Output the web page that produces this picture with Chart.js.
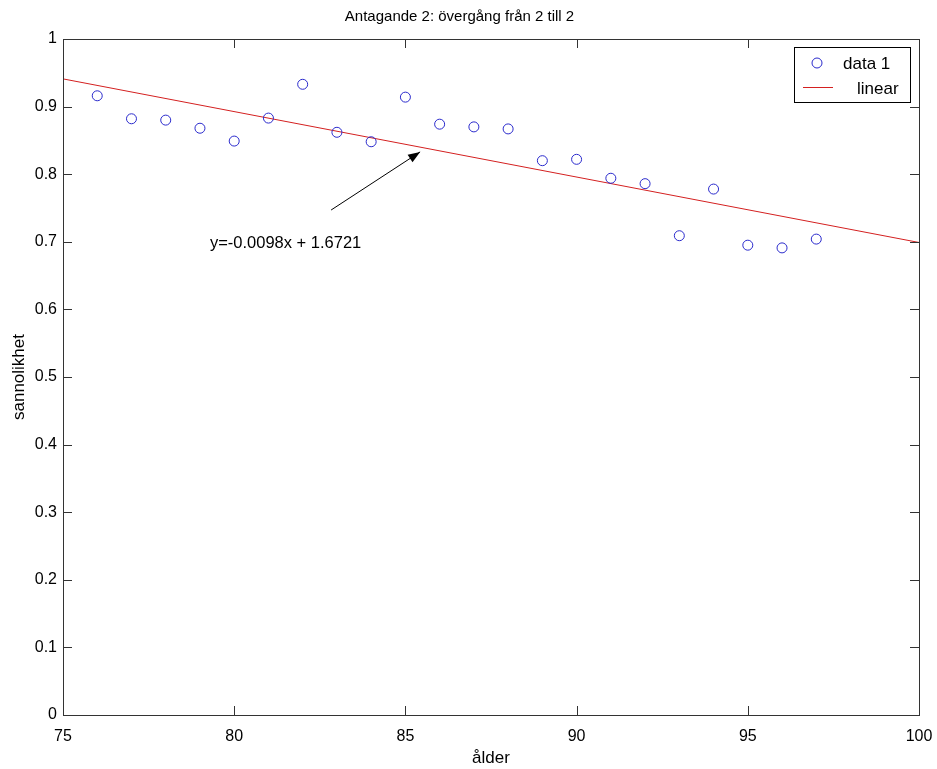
<!DOCTYPE html>
<html>
<head>
<meta charset="utf-8">
<script src="https://cdn.jsdelivr.net/npm/chart.js@4/dist/chart.umd.min.js"></script>
<style>
html,body{margin:0;padding:0;background:#fff;}
#wrap{width:937px;height:769px;position:relative;}
</style>
</head>
<body>
<div id="wrap"><canvas id="c" width="937" height="769"></canvas></div>
<script>
// ---- data ----
const ages = [76,77,78,79,80,81,82,83,84,85,86,87,88,89,90,91,92,93,94,95,96,97];
const probabilities = [0.916,0.882,0.880,0.868,0.849,0.883,0.933,0.862,0.848,0.914,0.874,0.870,0.867,0.820,0.822,0.794,0.786,0.709,0.778,0.695,0.691,0.704];
const fitX = [75,100];
const fitY = [0.941,0.699];
const xTicks = [75,80,85,90,95,100];
const yTicks = [0,0.1,0.2,0.3,0.4,0.5,0.6,0.7,0.8,0.9,1];
const titleText = 'Antagande 2: övergång från 2 till 2';
const xTitle = 'ålder';
const yTitle = 'sannolikhet';
const seriesNames = ['data 1','linear'];
const fitLabel = 'y=-0.0098x + 1.6721';

const FONT = '"Liberation Sans", Arial, Helvetica, sans-serif';
const BLUE = '#2a2acc';
const RED = '#d42020';

const boxPlugin = {
  id: 'matlabBox',
  afterDraw(chart) {
    const {ctx, chartArea: a, scales} = chart;
    const xs = scales.x, ys = scales.y;
    ctx.save();
    ctx.strokeStyle = '#333';
    ctx.lineWidth = 1;
    // box
    ctx.strokeRect(Math.round(a.left)+0.5, Math.round(a.top)+0.5, Math.round(a.right-a.left), Math.round(a.bottom-a.top));
    // inward ticks
    const TL = 9;
    ctx.beginPath();
    xTicks.forEach(v => {
      const px = Math.round(xs.getPixelForValue(v))+0.5;
      ctx.moveTo(px, a.bottom); ctx.lineTo(px, a.bottom-TL);
      ctx.moveTo(px, a.top); ctx.lineTo(px, a.top+TL);
    });
    yTicks.forEach(v => {
      const py = Math.round(ys.getPixelForValue(v))+0.5;
      ctx.moveTo(a.left, py); ctx.lineTo(a.left+TL, py);
      ctx.moveTo(a.right, py); ctx.lineTo(a.right-TL, py);
    });
    ctx.stroke();

    // annotation arrow
    const tx = xs.getPixelForValue(82.83), ty = ys.getPixelForValue(0.747);
    const hx = xs.getPixelForValue(85.43), hy = ys.getPixelForValue(0.833);
    ctx.strokeStyle = '#000';
    ctx.beginPath(); ctx.moveTo(tx,ty); ctx.lineTo(hx,hy); ctx.stroke();
    const ang = Math.atan2(hy-ty, hx-tx);
    const hl = 12, hw = 4.5;
    ctx.fillStyle = '#000';
    ctx.beginPath();
    ctx.moveTo(hx,hy);
    ctx.lineTo(hx - hl*Math.cos(ang) + hw*Math.sin(ang), hy - hl*Math.sin(ang) - hw*Math.cos(ang));
    ctx.lineTo(hx - hl*Math.cos(ang) - hw*Math.sin(ang), hy - hl*Math.sin(ang) + hw*Math.cos(ang));
    ctx.closePath(); ctx.fill();
    ctx.font = '16.5px ' + FONT;
    ctx.textAlign = 'left'; ctx.textBaseline = 'middle';
    ctx.fillText(fitLabel, xs.getPixelForValue(79.29), ys.getPixelForValue(0.697));

    // legend
    const lx = 794, ly = 47, lw = 116, lh = 55;
    ctx.fillStyle = '#fff';
    ctx.fillRect(lx, ly, lw, lh);
    ctx.strokeStyle = '#000';
    ctx.strokeRect(lx+0.5, ly+0.5, lw, lh);
    ctx.strokeStyle = BLUE;
    ctx.beginPath(); ctx.arc(817, 63, 5, 0, Math.PI*2); ctx.stroke();
    ctx.strokeStyle = RED;
    ctx.beginPath(); ctx.moveTo(803, 87.5); ctx.lineTo(833, 87.5); ctx.stroke();
    ctx.fillStyle = '#000';
    ctx.font = '17px ' + FONT;
    ctx.textAlign = 'left'; ctx.textBaseline = 'middle';
    ctx.fillText(seriesNames[0], 843, 64);
    ctx.fillText(seriesNames[1], 857, 89);
    ctx.restore();
  }
};

new Chart(document.getElementById('c'), {
  type: 'scatter',
  data: {
    datasets: [
      {
        label: seriesNames[0],
        data: ages.map((x,i) => ({x, y: probabilities[i]})),
        showLine: false,
        pointStyle: 'circle',
        pointRadius: 5,
        pointBorderWidth: 1,
        pointBackgroundColor: 'rgba(0,0,0,0)',
        pointBorderColor: BLUE
      },
      {
        label: seriesNames[1],
        data: fitX.map((x,i) => ({x, y: fitY[i]})),
        showLine: true,
        pointRadius: 0,
        borderColor: RED,
        borderWidth: 1,
        fill: false
      }
    ]
  },
  options: {
    responsive: false,
    animation: false,
    events: [],
    layout: { padding: { left: 0, right: 18, top: 0, bottom: 0 } },
    plugins: {
      legend: { display: false },
      tooltip: { enabled: false },
      title: {
        display: true,
        text: titleText,
        color: '#000',
        font: { family: FONT, size: 15, weight: 'normal', lineHeight: 1.2 },
        padding: { top: 8, bottom: 13 }
      }
    },
    scales: {
      x: {
        type: 'linear',
        min: 75, max: 100,
        afterBuildTicks: s => { s.ticks = xTicks.map(v => ({value: v})); },
        afterFit: s => { s.height = 54; s.paddingLeft = 0; s.paddingRight = 0; },
        grid: { display: false, drawTicks: false },
        border: { display: false },
        ticks: { color: '#000', font: { family: FONT, size: 16 }, padding: 12, maxRotation: 0 },
        title: { display: true, text: xTitle, color: '#000', font: { family: FONT, size: 17 }, padding: { top: 0, bottom: 0 } }
      },
      y: {
        type: 'linear',
        min: 0, max: 1,
        afterBuildTicks: s => { s.ticks = yTicks.map(v => ({value: v})); },
        afterFit: s => { s.width = 63; s.paddingTop = 0; s.paddingBottom = 0; },
        grid: { display: false, drawTicks: false },
        border: { display: false },
        ticks: { color: '#000', font: { family: FONT, size: 16 }, padding: 6,
          callback: v => String(Math.round(v*10)/10) },
        title: { display: true, text: yTitle, color: '#000', font: { family: FONT, size: 17 }, padding: { top: 9, bottom: 0 } }
      }
    }
  },
  plugins: [boxPlugin]
});
</script>
</body>
</html>
